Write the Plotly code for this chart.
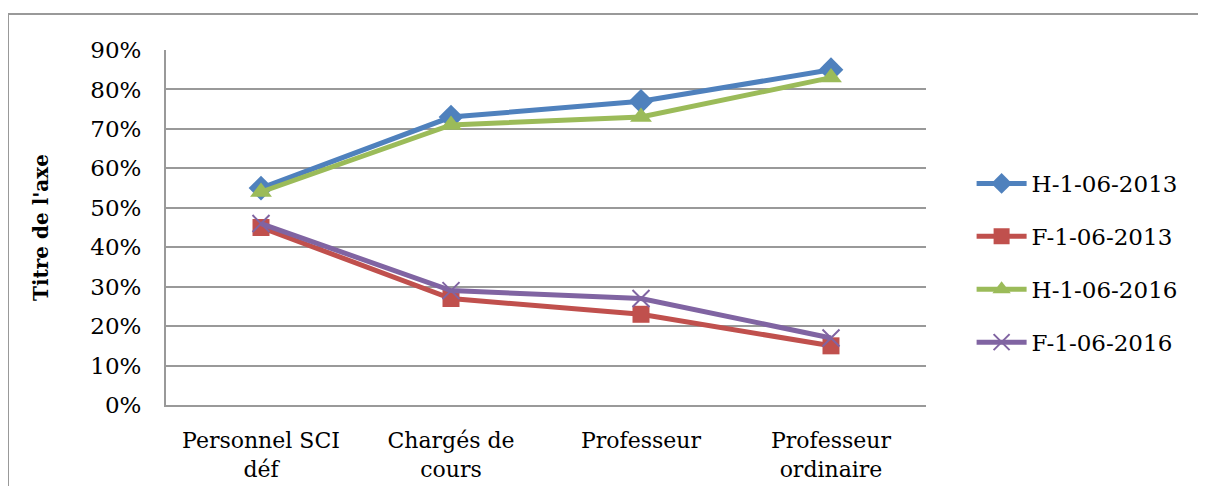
import plotly.graph_objects as go

categories = ["Personnel SCI<br>déf", "Chargés de<br>cours", "Professeur", "Professeur<br>ordinaire"]
h_2013 = [0.55, 0.73, 0.77, 0.85]
f_2013 = [0.45, 0.27, 0.23, 0.15]
h_2016 = [0.54, 0.71, 0.73, 0.83]
f_2016 = [0.46, 0.29, 0.27, 0.17]
y_ticks = [0, 0.1, 0.2, 0.3, 0.4, 0.5, 0.6, 0.7, 0.8, 0.9]
y_labels = [f"{int(round(v*100))}%" for v in y_ticks]

FONT = "DejaVu Serif"
series = [
    ("H-1-06-2013", h_2013, "#4F81BD", dict(symbol="diamond", size=19)),
    ("F-1-06-2013", f_2013, "#C0504D", dict(symbol="square", size=17)),
    ("H-1-06-2016", h_2016, "#9BBB59", dict(symbol="triangle-up", size=19)),
    ("F-1-06-2016", f_2016, "#8064A2", dict(symbol="x-thin-open", size=17, line=dict(width=2, color="#8064A2"))),
]

fig = go.Figure()
for i, (name, vals, color, marker) in enumerate(series):
    m = dict(color=color, **marker)
    fig.add_trace(go.Scatter(
        x=categories, y=vals, name=name, mode="lines+markers",
        line=dict(color=color, width=5), marker=m, legendgroup=f"g{i}",
    ))

# the page has an 8px body margin: figure origin is at (8, 8)
W, H = 1190, 478
L, T = 158, 42
PW, PH = 760, 355
border = dict(color="#999999", width=2)
px = lambda v: (v - L) / PW
py = lambda v: (T + PH - v) / PH
fig.update_layout(
    width=W, height=H,
    margin=dict(l=L, r=W - L - PW, t=T, b=H - T - PH, autoexpand=False),
    paper_bgcolor="white", plot_bgcolor="white",
    font=dict(family=FONT, size=22, color="#000000"),
    showlegend=True,
    legend=dict(x=1.06, y=0.40, yanchor="middle", xanchor="left",
                font=dict(family=FONT, size=23), tracegroupgap=20, itemwidth=50),
    xaxis=dict(showgrid=False, showline=True, linecolor="#999999", linewidth=2,
               range=[-0.5, 3.5], ticks="", tickfont=dict(family=FONT, size=22),
               fixedrange=True, ticklabelstandoff=15, automargin=False),
    yaxis=dict(range=[0, 0.9], tickvals=y_ticks, ticktext=y_labels,
               showgrid=True, gridcolor="#999999", gridwidth=2,
               showline=True, linecolor="#999999", linewidth=2, zeroline=False,
               ticks="", ticklen=0, tickfont=dict(family=FONT, size=23),
               ticklabelstandoff=18, automargin=False,
               title=dict(text="<b>Titre de l'axe</b>", font=dict(family=FONT, size=20), standoff=36)),
    shapes=[
        dict(type="line", xref="paper", yref="paper", x0=px(0), x1=px(W + 20),
             y0=py(6), y1=py(6), line=border, layer="below"),
        dict(type="line", xref="paper", yref="paper", x0=px(0), x1=px(0),
             y0=py(6), y1=py(H + 20), line=border, layer="below"),
    ],
)

fig.write_html("out.html")
